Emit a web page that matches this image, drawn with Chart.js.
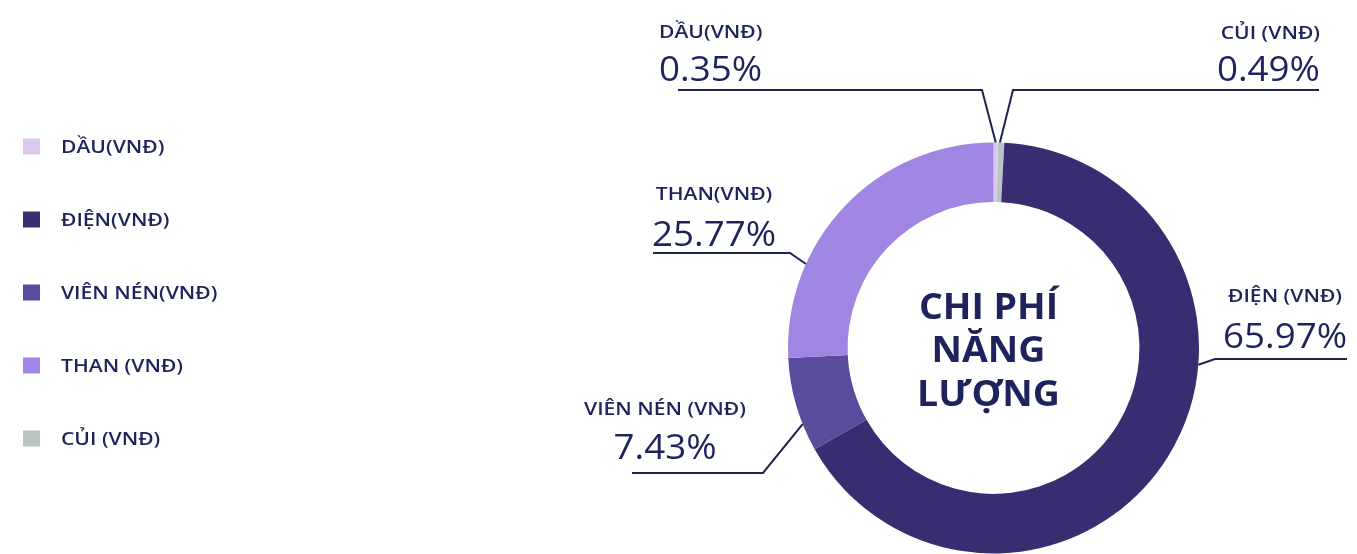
<!DOCTYPE html>
<html>
<head>
<meta charset="utf-8">
<script src="https://cdn.jsdelivr.net/npm/chart.js@4/dist/chart.umd.min.js"></script>
<style>
  html, body { margin: 0; padding: 0; background: #ffffff; }
  #wrap { width: 1357px; height: 554px; position: relative; }
</style>
</head>
<body>
<div id="wrap"><canvas id="c" width="1357" height="554"></canvas></div>
<script>
// ---- data ----
const categories = ['DẦU', 'CỦI', 'ĐIỆN', 'VIÊN NÉN', 'THAN'];
const values = [0.35, 0.49, 65.97, 7.43, 25.77];
const calloutLabels = ['DẦU(VNĐ)', 'CỦI (VNĐ)', 'ĐIỆN (VNĐ)', 'VIÊN NÉN (VNĐ)', 'THAN(VNĐ)'];
const legendLabels = ['DẦU(VNĐ)', 'ĐIỆN(VNĐ)', 'VIÊN NÉN(VNĐ)', 'THAN (VNĐ)', 'CỦI (VNĐ)'];
const legendOrder = [0, 2, 3, 4, 1];
const centerText = ['CHI PHÍ', 'NĂNG', 'LƯỢNG'];

// ---- styles ----
const colors = ['#dcc8ef', '#bac3c3', '#3a2c70', '#5b4b9d', '#a185e2'];
const textColor = '#1e235c';
const lineColor = '#1e2452';
const FONT = '"Open Sans", "Noto Sans", sans-serif';

// callout layout (anchor fraction along slice, elbow point, line end, text position)
const callouts = [
  { f: 0.5,  elbow: [982, 90],  end: [678, 90],   align: 'left',   tx: 659,  ly: 31.5, py: 68.5 },
  { f: 0.3,  elbow: [1013, 90], end: [1319, 90],  align: 'right',  tx: 1320, ly: 32.5, py: 69 },
  { f: 0.386, elbow: [1215, 359], end: [1347, 359], align: 'center', tx: 1285, ly: 296, py: 336 },
  { f: 0.29, elbow: [763, 473], end: [632, 473],  align: 'center', tx: 665,  ly: 409, py: 446.5 },
  { f: 0.29, elbow: [790, 253], end: [653, 253],  align: 'center', tx: 714,  ly: 194, py: 233.5 }
];

function drawText(ctx, t, x, y, align, sx) {
  ctx.save();
  ctx.translate(x, y);
  ctx.scale(sx, 1);
  ctx.textAlign = align;
  ctx.textBaseline = 'alphabetic';
  ctx.fillText(t, 0, 0);
  ctx.restore();
}

const overlay = {
  id: 'overlay',
  afterDraw(chart) {
    const ctx = chart.ctx;
    const meta = chart.getDatasetMeta(0);
    ctx.save();
    // callouts
    meta.data.forEach((arc, i) => {
      const c = callouts[i];
      const p = arc.getProps(['x', 'y', 'startAngle', 'endAngle', 'outerRadius'], true);
      const a = p.startAngle + c.f * (p.endAngle - p.startAngle);
      const ax = p.x + p.outerRadius * Math.cos(a);
      const ay = p.y + p.outerRadius * Math.sin(a);
      ctx.beginPath();
      ctx.strokeStyle = lineColor;
      ctx.lineWidth = 2;
      ctx.moveTo(ax, ay);
      ctx.lineTo(c.elbow[0], c.elbow[1]);
      ctx.lineTo(c.end[0], c.end[1]);
      ctx.stroke();

      ctx.fillStyle = textColor;
      ctx.font = '600 18px ' + FONT;
      drawText(ctx, calloutLabels[i], c.tx, c.ly + 0.357 * 18, c.align, 1.17);
      ctx.font = '400 35px ' + FONT;
      drawText(ctx, values[i].toFixed(2) + '%', c.tx, c.py + 0.357 * 35, c.align, 1.05);
    });

    // center text
    const cx = meta.data[0].x - 5, cy = meta.data[0].y;
    ctx.font = '700 35px ' + FONT;
    ctx.fillStyle = textColor;
    const lh = 43.5;
    centerText.forEach((t, k) => {
      const yc = cy + (k - (centerText.length - 1) / 2) * lh + 2;
      drawText(ctx, t, cx, yc + 0.357 * 34, 'center', 1.07);
    });

    // legend
    ctx.font = '600 18px ' + FONT;
    legendOrder.forEach((idx, k) => {
      const yc = 146.5 + k * 73;
      ctx.fillStyle = colors[idx];
      ctx.fillRect(23, yc - 8, 17, 16);
      ctx.fillStyle = textColor;
      drawText(ctx, legendLabels[k], 61, yc + 0.357 * 18, 'left', 1.17);
    });
    ctx.restore();
  }
};

new Chart(document.getElementById('c'), {
  type: 'doughnut',
  data: {
    labels: categories,
    datasets: [{
      data: values,
      backgroundColor: colors,
      borderWidth: 0,
      hoverOffset: 0
    }]
  },
  options: {
    responsive: false,
    animation: false,
    cutout: '71%',
    rotation: 0,
    layout: { padding: { left: 786.5, right: 156.5, top: 142.5, bottom: 0.5 } },
    plugins: {
      legend: { display: false },
      tooltip: { enabled: false }
    }
  },
  plugins: [overlay]
});
</script>
</body>
</html>
